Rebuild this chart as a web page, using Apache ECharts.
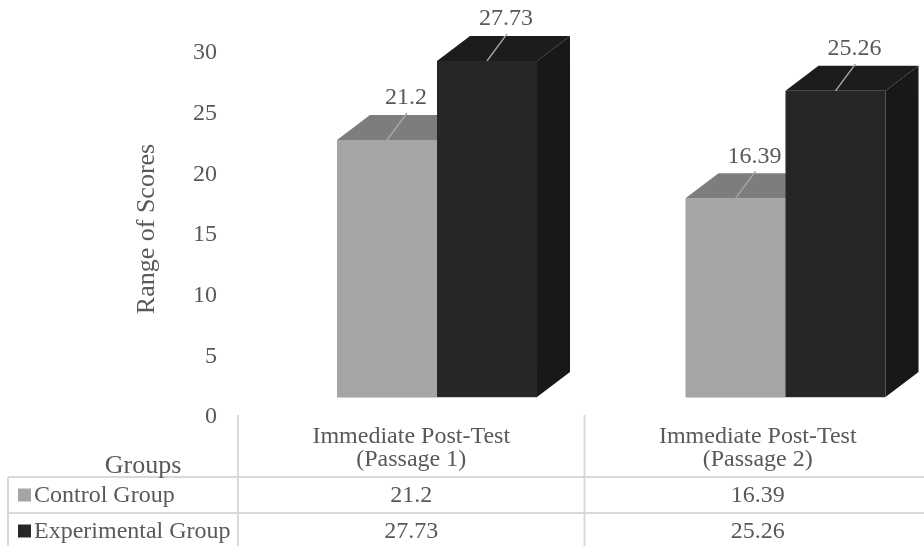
<!DOCTYPE html>
<html>
<head>
<meta charset="utf-8">
<script src="https://cdn.jsdelivr.net/npm/echarts@6/dist/echarts.min.js"></script>
<style>
  html, body { margin: 0; padding: 0; background: #ffffff; }
  #chart { width: 924px; height: 546px; }
</style>
</head>
<body>
<div id="chart"></div>
<script>
// ---- data ----
const categories = ['Immediate Post-Test\n(Passage 1)', 'Immediate Post-Test\n(Passage 2)'];
const seriesNames = ['Control Group', 'Experimental Group'];
const controlValues = [21.2, 16.39];
const experimentalValues = [27.73, 25.26];
const valueAxisTitle = 'Range of Scores';
const categoryAxisTitle = 'Groups';

// ---- style ----
const FONT = "'Liberation Serif', 'Times New Roman', serif";
const TEXT = '#595959';
const GRID_LINE = '#d9d9d9';
const palettes = [
  { front: '#a5a5a5', top: '#7d7d7d', side: '#8c8c8c', key: '#a5a5a5' },
  { front: '#262626', top: '#1c1c1c', side: '#181818', key: '#262626' }
];
const PLOT_LEFT = 262.75;   // left edge of the first category band
const BAND = 348.5;         // pixel width of one category band
const BAR_FRAC = 0.287;     // share of the band taken by one bar face
const DEPTH_X = 33;         // oblique depth of the boxes
const DEPTH_Y = 25;

function boxRenderer(seriesIdx) {
  const pal = palettes[seriesIdx];
  return function (params, api) {
    const cat = api.value(0);
    const val = api.value(1);
    const base = api.coord([cat, 0]);
    const top = api.coord([cat, val]);
    const w = api.size([1, 0])[0] * BAR_FRAC;
    const x0 = seriesIdx === 0 ? base[0] - w : base[0];
    const x1 = x0 + w;
    const yT = top[1], yB = base[1];
    const cx = (x0 + x1) / 2;
    return {
      type: 'group',
      children: [
        { type: 'rect', shape: { x: x0, y: yT, width: w, height: yB - yT }, style: { fill: pal.front } },
        { type: 'polygon', shape: { points: [[x0, yT], [x1, yT], [x1 + DEPTH_X, yT - DEPTH_Y], [x0 + DEPTH_X, yT - DEPTH_Y]] }, style: { fill: pal.top } },
        { type: 'polygon', shape: { points: [[x1, yT], [x1 + DEPTH_X, yT - DEPTH_Y], [x1 + DEPTH_X, yB - DEPTH_Y], [x1, yB]] }, style: { fill: pal.side } },
        { type: 'line', shape: { x1: x0, y1: yB + 0.5, x2: x1, y2: yB + 0.5 }, style: { stroke: '#d0d0d0', lineWidth: 1 } },
        // leader line and value label
        { type: 'line', shape: { x1: cx, y1: yT, x2: cx + 20, y2: yT - 27 }, style: { stroke: '#a6a6a6', lineWidth: 1.5 } },
        { type: 'text', x: cx + 19, y: yT - 42, style: { text: String(val), fill: TEXT, font: '24px ' + FONT, align: 'center', verticalAlign: 'middle' } }
      ]
    };
  };
}

// ---- data table beneath the plot ----
const TABLE = { left: 8, right: 924, firstCol: 238, colW: 346.5, axisTop: 415, headerBottom: 477, rowH: 36, bottom: 560 };
const tableGraphics = [];
function hLine(y, xa, xb) { tableGraphics.push({ type: 'line', shape: { x1: xa, y1: y, x2: xb, y2: y }, style: { stroke: GRID_LINE, lineWidth: 2 }, silent: true }); }
function vLine(x, ya, yb) { tableGraphics.push({ type: 'line', shape: { x1: x, y1: ya, x2: x, y2: yb }, style: { stroke: GRID_LINE, lineWidth: 2 }, silent: true }); }
function label(x, y, text, size, align) {
  tableGraphics.push({ type: 'text', x: x, y: y, style: { text: text, fill: TEXT, font: size + 'px ' + FONT, align: align || 'center', verticalAlign: 'middle' }, silent: true });
}
for (let r = 0; r <= seriesNames.length; r++) hLine(TABLE.headerBottom + r * TABLE.rowH, TABLE.left, TABLE.right);
vLine(TABLE.left, TABLE.headerBottom, TABLE.bottom);
for (let c = 0; c <= categories.length - 1; c++) vLine(TABLE.firstCol + c * TABLE.colW, TABLE.axisTop, TABLE.bottom);
label(143, 466, categoryAxisTitle, 26);
categories.forEach(function (cat, c) {
  const cx = TABLE.firstCol + (c + 0.5) * TABLE.colW;
  const lines = cat.split('\n');
  label(cx, 437, lines[0], 24);
  label(cx, 460, lines[1], 24);
});
const rows = [controlValues, experimentalValues];
rows.forEach(function (vals, r) {
  const cy = TABLE.headerBottom + (r + 0.5) * TABLE.rowH;
  tableGraphics.push({ type: 'rect', shape: { x: 18, y: cy - 6.5, width: 13, height: 13 }, style: { fill: palettes[r].key }, silent: true });
  label(34, cy + 0.5, seriesNames[r], 24, 'left');
  vals.forEach(function (v, c) {
    label(TABLE.firstCol + (c + 0.5) * TABLE.colW, cy + 0.5, String(v), 24);
  });
});
tableGraphics.push({ type: 'text', x: 147, y: 229, rotation: Math.PI / 2, style: { text: valueAxisTitle, fill: TEXT, font: '26px ' + FONT, align: 'center', verticalAlign: 'middle' }, silent: true });

const chart = echarts.init(document.getElementById('chart'), null, { renderer: 'canvas' });
const plotWidth = 924 - PLOT_LEFT;
chart.setOption({
  backgroundColor: '#ffffff',
  animation: false,
  grid: [
    { left: PLOT_LEFT, width: plotWidth, top: 33.4, height: 363.6 },   // boxes (front plane)
    { left: 225, width: 10, top: 53, height: 364 }                      // value scale shown on the left
  ],
  xAxis: [
    // category positions as band indices: band i is centred at i
    { gridIndex: 0, type: 'value', min: -0.5, max: -0.5 + plotWidth / BAND, show: false },
    { gridIndex: 1, type: 'category', data: [''], show: false }
  ],
  yAxis: [
    { gridIndex: 0, type: 'value', min: 0, max: 30, show: false },
    {
      gridIndex: 1, type: 'value', min: 0, max: 30, interval: 5,
      axisLine: { show: false }, axisTick: { show: false }, splitLine: { show: false },
      axisLabel: { color: TEXT, fontFamily: FONT, fontSize: 24, margin: 8 }
    }
  ],
  series: [
    { name: seriesNames[0], type: 'custom', xAxisIndex: 0, yAxisIndex: 0, renderItem: boxRenderer(0), data: controlValues.map(function (v, i) { return [i, v]; }) },
    { name: seriesNames[1], type: 'custom', xAxisIndex: 0, yAxisIndex: 0, renderItem: boxRenderer(1), data: experimentalValues.map(function (v, i) { return [i, v]; }) },
    { type: 'line', xAxisIndex: 1, yAxisIndex: 1, data: [], silent: true }
  ],
  graphic: tableGraphics
});
</script>
</body>
</html>
